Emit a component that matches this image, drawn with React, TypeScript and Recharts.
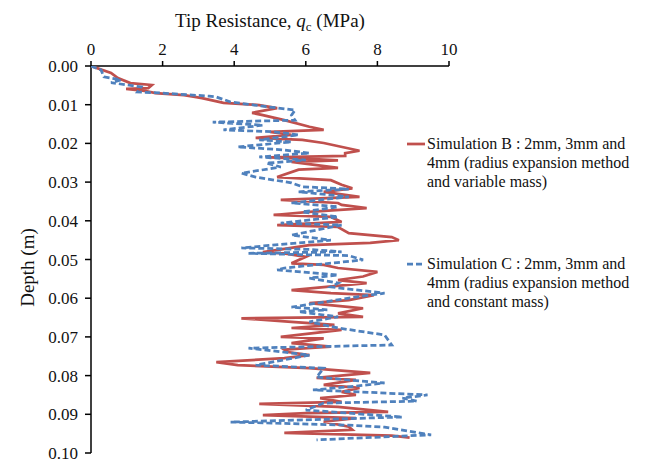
import React from 'react';
import { ScatterChart, Scatter, XAxis, YAxis, Legend } from 'recharts';

const FONT = "'Liberation Serif', 'Times New Roman', serif";
const RED = '#C0504D';
const BLUE = '#4F81BD';

const xTicks = [0, 2, 4, 6, 8, 10];
const yTicks = [0, 0.01, 0.02, 0.03, 0.04, 0.05, 0.06, 0.07, 0.08, 0.09, 0.1];

const titleText = 'Tip Resistance, ';
const yLabelText = 'Depth (m)';

const legendB = ['Simulation B : 2mm, 3mm and', '4mm (radius expansion method', 'and variable mass)'];
const legendC = ['Simulation C : 2mm, 3mm and', '4mm (radius expansion method', 'and constant mass)'];

// Simulation B (red, solid)
const depthB = [
  0.0, 0.0018, 0.0031, 0.0044, 0.0049, 0.0057, 0.0059, 0.0064, 0.007, 0.0075,
  0.008, 0.0083, 0.0095, 0.0101, 0.0109, 0.0121, 0.0127, 0.014, 0.0157, 0.0165,
  0.017, 0.0178, 0.0186, 0.0191, 0.0199, 0.0219, 0.0225, 0.0232, 0.0236, 0.024,
  0.0244, 0.0248, 0.0263, 0.0268, 0.0287, 0.0295, 0.0307, 0.0316, 0.0325, 0.0338,
  0.0346, 0.0354, 0.0359, 0.0367, 0.0377, 0.0385, 0.039, 0.0403, 0.0411, 0.0416,
  0.0432, 0.0442, 0.045, 0.0457, 0.0463, 0.0481, 0.0484, 0.0493, 0.051, 0.0514,
  0.0522, 0.0532, 0.0544, 0.0553, 0.0561, 0.0579, 0.0587, 0.0592, 0.0605, 0.0613,
  0.0626, 0.0639, 0.0648, 0.0652, 0.0661, 0.0669, 0.0677, 0.0682, 0.07, 0.0704,
  0.0716, 0.0725, 0.0733, 0.0739, 0.0747, 0.0755, 0.0765, 0.0773, 0.0781, 0.0793,
  0.0806, 0.0811, 0.0824, 0.0832, 0.0842, 0.085, 0.0858, 0.0868, 0.0873, 0.0881,
  0.0894, 0.0897, 0.0902, 0.091, 0.0919, 0.0932, 0.094, 0.0948, 0.0955, 0.096,
];
const qcB = [
  0.0, 0.56, 0.75, 1.1, 1.7, 1.6, 0.98, 1.5, 1.8, 2.6,
  2.9, 3.1, 3.7, 4.7, 5.2, 4.5, 4.8, 5.4, 6.1, 6.5,
  5.0, 5.6, 4.6, 5.9, 6.5, 7.5, 7.1, 7.1, 5.0, 6.1,
  6.9, 5.6, 6.9, 5.8, 5.2, 6.7, 7.0, 7.3, 6.5, 7.5,
  5.3, 6.9, 7.0, 7.7, 6.1, 5.1, 6.7, 7.0, 5.2, 6.9,
  7.2, 8.4, 8.6, 7.8, 6.1, 4.8, 5.4, 6.0, 5.6, 6.5,
  6.9, 8.0, 7.6, 6.9, 7.7, 5.6, 6.7, 7.9, 7.2, 6.1,
  7.6, 6.9, 7.6, 4.2, 5.6, 6.8, 5.6, 7.0, 5.3, 6.5,
  5.6, 6.7, 5.4, 5.5, 6.1, 5.4, 3.5, 4.1, 6.1, 7.8,
  6.3, 7.4, 6.5, 7.5, 7.0, 7.4, 6.4, 7.0, 4.7, 6.9,
  8.3, 6.0, 4.8, 7.4, 6.5, 7.2, 7.3, 5.4, 8.4, 8.9,
];

// Simulation C (blue, dashed)
const depthC = [
  0.0, 0.001, 0.0028, 0.0036, 0.0043, 0.0054, 0.0067, 0.007, 0.0078, 0.008,
  0.0093, 0.0105, 0.0114, 0.0127, 0.014, 0.0145, 0.0153, 0.0165, 0.017, 0.0178,
  0.0191, 0.0196, 0.0209, 0.0217, 0.0225, 0.0235, 0.0243, 0.0251, 0.0261, 0.0277,
  0.0287, 0.0302, 0.0312, 0.0318, 0.0325, 0.0338, 0.0354, 0.0364, 0.0377, 0.039,
  0.0406, 0.0411, 0.0437, 0.045, 0.047, 0.0474, 0.048, 0.0484, 0.049, 0.0501,
  0.0522, 0.0527, 0.054, 0.0548, 0.0561, 0.0571, 0.0587, 0.0597, 0.061, 0.0623,
  0.063, 0.0635, 0.0648, 0.0661, 0.0677, 0.0695, 0.0721, 0.0729, 0.0747, 0.0773,
  0.0781, 0.0804, 0.0819, 0.0829, 0.0837, 0.085, 0.0858, 0.0866, 0.0871, 0.0889,
  0.0907, 0.092, 0.0928, 0.0933, 0.0953, 0.0966,
];
const qcC = [
  0.0, 0.28, 0.36, 0.84, 0.56, 1.4, 1.3, 2.0, 3.3, 3.5,
  3.9, 4.9, 5.7, 5.6, 5.7, 3.4, 4.8, 3.7, 5.1, 5.8,
  4.7, 5.6, 4.1, 5.4, 6.1, 4.7, 6.0, 4.9, 5.3, 4.2,
  4.6, 5.6, 5.9, 7.2, 5.8, 7.2, 5.6, 6.9, 5.9, 6.9,
  5.3, 7.0, 5.6, 6.7, 4.2, 6.1, 7.0, 4.4, 7.2, 7.6,
  5.4, 5.2, 6.9, 6.1, 6.9, 6.7, 8.2, 7.4, 6.5, 5.6,
  6.6, 5.8, 6.9, 6.1, 6.9, 8.2, 8.4, 4.4, 6.1, 4.6,
  6.5, 6.3, 8.2, 7.2, 6.2, 9.4, 8.7, 9.1, 6.5, 6.0,
  8.7, 3.9, 7.2, 8.2, 9.5, 6.3,
];

const dataB = depthB.map((d, i) => ({ depth: d, qc: qcB[i] }));
const dataC = depthC.map((d, i) => ({ depth: d, qc: qcC[i] }));

const TitleLabel = (props: any) => {
  const vb = props.viewBox || { x: 91, width: 358 };
  const cx = vb.x + vb.width / 2;
  return (
    <text x={cx} y={27} textAnchor="middle" fontFamily={FONT} fontSize={19} fill="#111">
      {titleText}
      <tspan fontStyle="italic">q</tspan>
      <tspan fontSize={13} dy={4}>c</tspan>
      <tspan dy={-4}> (MPa)</tspan>
    </text>
  );
};

const YLabel = (props: any) => {
  const vb = props.viewBox || { y: 66, height: 387 };
  const cy = vb.y + vb.height / 2 + 8;
  return (
    <text
      x={27}
      y={cy}
      transform={`rotate(-90, 27, ${cy})`}
      textAnchor="middle"
      dominantBaseline="central"
      fontFamily={FONT}
      fontSize={19}
      fill="#111"
    >
      {yLabelText}
    </text>
  );
};

const LegendItem = ({ lines, color, dashed, top }: any) => (
  <div style={{ position: 'absolute', left: 0, top, display: 'flex', alignItems: 'flex-start' }}>
    <svg width={22} height={19} style={{ flex: 'none' }}>
      <line x1={2} y1={10} x2={20} y2={10} stroke={color} strokeWidth={2.75} strokeDasharray={dashed ? '6 3' : undefined} />
    </svg>
    <div style={{ fontFamily: FONT, fontSize: 16, lineHeight: '19px', color: '#111', whiteSpace: 'nowrap' }}>
      {lines.map((l: string, i: number) => (
        <div key={i}>{l}</div>
      ))}
    </div>
  </div>
);

const LegendBox = () => (
  <div style={{ position: 'relative', width: 240, height: 190 }}>
    <LegendItem lines={legendB} color={RED} dashed={false} top={0} />
    <LegendItem lines={legendC} color={BLUE} dashed={true} top={120} />
  </div>
);

export default function App() {
  return (
    <div style={{ width: 654, height: 463, background: '#fff' }}>
      <style>{`body{margin:0;overflow:hidden;background:#fff}`}</style>
      <ScatterChart width={654} height={463} margin={{ top: 36, right: 205, bottom: 10, left: 0 }}>
        <XAxis
          type="number"
          dataKey="qc"
          orientation="top"
          domain={[0, 10]}
          ticks={xTicks}
          height={30}
          axisLine={{ stroke: '#000', strokeWidth: 1.5 }}
          tickLine={{ stroke: '#000', strokeWidth: 1.5 }}
          tickSize={5}
          tickMargin={6}
          tick={{ fill: '#111', fontFamily: FONT, fontSize: 17 }}
          allowDataOverflow
          label={TitleLabel}
        />
        <YAxis
          type="number"
          dataKey="depth"
          domain={[0, 0.1]}
          ticks={yTicks}
          reversed
          width={91}
          axisLine={{ stroke: '#000', strokeWidth: 1.5 }}
          tickLine={{ stroke: '#000', strokeWidth: 1.5 }}
          tickSize={6}
          tickMargin={7}
          tick={{ fill: '#111', fontFamily: FONT, fontSize: 17 }}
          tickFormatter={(v: number) => v.toFixed(2)}
          allowDataOverflow
          label={YLabel}
        />
        <Scatter
          name={legendB.join(' ')}
          data={dataB}
          fill={RED}
          line={{ stroke: RED, strokeWidth: 2.75 }}
          lineJointType="linear"
          shape={() => <g />}
          isAnimationActive={false}
        />
        <Scatter
          name={legendC.join(' ')}
          data={dataC}
          fill={BLUE}
          line={{ stroke: BLUE, strokeWidth: 2.75, strokeDasharray: '6 3' }}
          lineJointType="linear"
          shape={() => <g />}
          isAnimationActive={false}
        />
        <Legend
          layout="vertical"
          align="center"
          verticalAlign="middle"
          wrapperStyle={{ position: 'absolute', left: 405, top: 134, width: 245, height: 190 }}
          content={() => <LegendBox />}
        />
      </ScatterChart>
    </div>
  );
}
